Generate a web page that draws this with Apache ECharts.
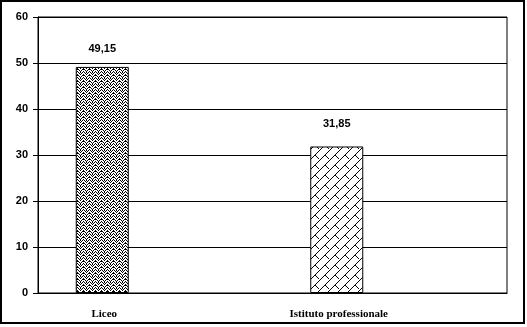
<!DOCTYPE html>
<html><head><meta charset="utf-8">
<script src="https://cdn.jsdelivr.net/npm/echarts@6/dist/echarts.min.js"></script>
<style>html,body{margin:0;padding:0;background:#fff}#c{width:527px;height:327px}</style>
</head><body><div id="c"></div>
<script>
var categories = ['Liceo', 'Istituto professionale'];
var values = [49.15, 31.85];
var labelsText = ['49,15', '31,85'];
var yTicks = [0, 10, 20, 30, 40, 50, 60];

function patWeave() {
  var c = document.createElement('canvas'); c.width = 6; c.height = 6;
  var g = c.getContext('2d'); g.fillStyle = '#fff'; g.fillRect(0,0,6,6);
  g.fillStyle = '#000';
  var px = [[0,0],[1,1],[2,2],[3,1],[4,0],[5,5],[0,3],[1,4],[2,5],[3,4],[4,3],[5,2],[2,0],[5,3]];
  px.forEach(function(p){ g.fillRect(p[0],p[1],1,1); });
  return c;
}
function patBrick() {
  var c = document.createElement('canvas'); c.width = 10; c.height = 10;
  var g = c.getContext('2d'); g.fillStyle = '#fff'; g.fillRect(0,0,10,10);
  g.fillStyle = '#000';
  for (var i = 0; i < 10; i++) { g.fillRect(i, 9 - i, 1, 1); }
  for (var j = 0; j < 4; j++) { g.fillRect(5 + j, 5 + j, 1, 1); }
  return c;
}
var pats = [patWeave(), patBrick()];
var labelDist = [12, 17];

var chart = echarts.init(document.getElementById('c'), null, {renderer: 'canvas'});
chart.setOption({
  animation: false,
  backgroundColor: '#fff',
  grid: {left: 38, right: 20, top: 17, bottom: 34, show: true, borderColor: '#000', borderWidth: 1, containLabel: false},
  graphic: [{type: 'rect', shape: {x: 1, y: 1, width: 523, height: 322}, style: {fill: 'none', stroke: '#000', lineWidth: 2}, z: 100}],
  xAxis: {
    type: 'category', data: categories,
    axisLine: {lineStyle: {color: '#000'}}, axisTick: {show: false},
    axisLabel: {color: '#000', fontFamily: 'Liberation Serif', fontWeight: 'bold', fontSize: 11, margin: 16, padding: [0, 102, 0, 0]}
  },
  yAxis: {
    type: 'value', min: yTicks[0], max: yTicks[yTicks.length - 1], interval: 10,
    axisLine: {show: true, lineStyle: {color: '#000'}},
    axisTick: {show: true, length: 5, lineStyle: {color: '#000'}},
    splitLine: {lineStyle: {color: '#000'}},
    axisLabel: {color: '#000', fontFamily: 'Liberation Sans', fontWeight: 'bold', fontSize: 11, margin: 10}
  },
  series: [
    {type: 'bar', barWidth: 53, barGap: '0%',
     data: values.map(function(v, i){ return {value: v, itemStyle: {color: {image: pats[i], repeat: 'repeat'}, borderColor: '#000', borderWidth: 1},
       label: {show: true, position: 'top', distance: labelDist[i], formatter: labelsText[i], color: '#000', fontFamily: 'Liberation Sans', fontWeight: 'bold', fontSize: 11}}; })},
    {type: 'bar', barWidth: 53, data: [null, null]},
    {type: 'bar', barWidth: 53, data: [null, null]}
  ]
});
</script></body></html>
